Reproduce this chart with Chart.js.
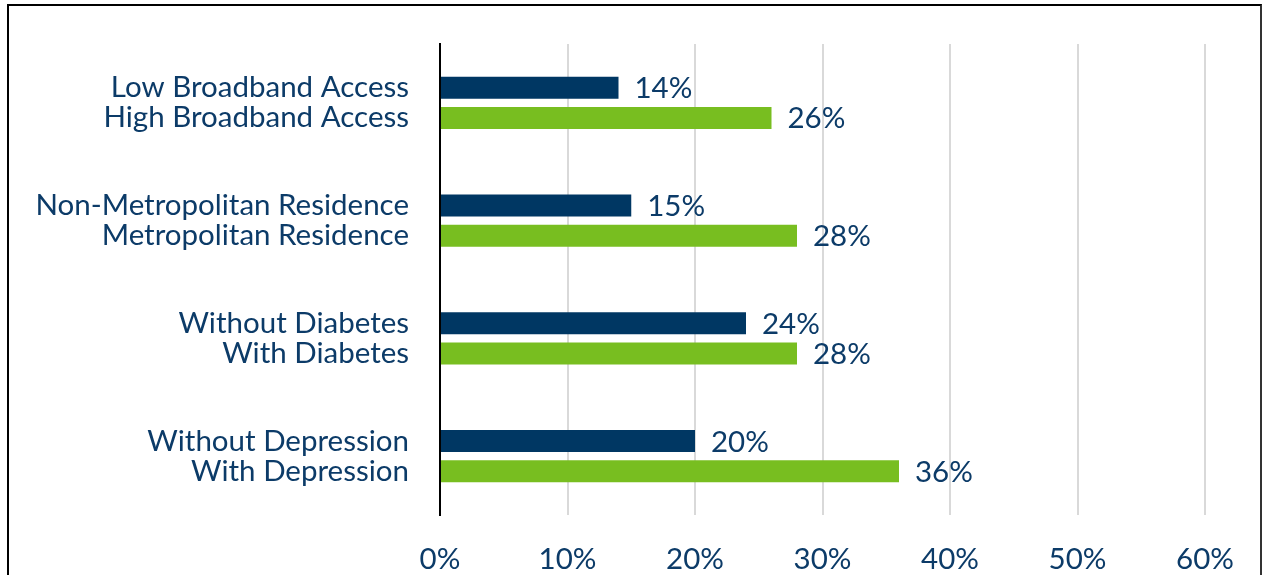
<!DOCTYPE html>
<html>
<head>
<meta charset="utf-8">
<script src="https://cdn.jsdelivr.net/npm/chart.js@4.4.0/dist/chart.umd.min.js"></script>
<style>
  html, body { margin: 0; padding: 0; background: #fff; overflow: hidden; }
  #frame {
    position: absolute;
    left: 7px;
    top: 4px;
    width: 1251px;
    height: 620px;
    border-top: 2px solid #000;
    border-left: 2px solid #000;
    border-right: 2px solid #333;
  }
  canvas { display: block; }
</style>
</head>
<body>
<div id="frame">
  <canvas id="grafico" width="1251" height="569"></canvas>
</div>
<script>
// each group shows two bars: the lower-uptake group first, then the higher one
const groupLabels = [
    ['Low Broadband Access', 'High Broadband Access'],
    ['Non-Metropolitan Residence', 'Metropolitan Residence'],
    ['Without Diabetes', 'With Diabetes'],
    ['Without Depression', 'With Depression']
];
const valoresBaixos = [14, 15, 24, 20];
const valoresAltos = [26, 28, 28, 36];
const xTicks = [0, 10, 20, 30, 40, 50, 60];

const corTexto = '#0c3b68';
const fonte = 'Lato, "Open Sans", sans-serif';
const tamanho = 29.5;

// writes the value beside the end of each bar
const rotulosValor = {
    id: 'rotulosValor',
    afterDatasetsDraw(chart) {
        const ctx = chart.ctx;
        ctx.save();
        ctx.font = tamanho + 'px ' + fonte;
        ctx.fillStyle = corTexto;
        ctx.textAlign = 'left';
        ctx.textBaseline = 'middle';
        chart.data.datasets.forEach((ds, i) => {
            chart.getDatasetMeta(i).data.forEach((bar, j) => {
                ctx.fillText(ds.data[j] + '%', bar.x + 16, bar.y + 1);
            });
        });
        ctx.restore();
    }
};

const ctx = document.getElementById('grafico').getContext('2d');
window.myChart = new Chart(ctx, {
    type: 'bar',
    data: {
        labels: groupLabels,
        datasets: [{
            label: 'Lower',
            data: valoresBaixos,
            backgroundColor: '#003763',
            categoryPercentage: 0.51,
            barPercentage: 0.733
        }, {
            label: 'Higher',
            data: valoresAltos,
            backgroundColor: '#78be20',
            categoryPercentage: 0.51,
            barPercentage: 0.733
        }]
    },
    options: {
        indexAxis: 'y',
        responsive: false,
        animation: false,
        layout: { padding: { top: 38, right: 55, left: 0, bottom: 0 } },
        plugins: {
            legend: { display: false },
            tooltip: { enabled: false }
        },
        scales: {
            x: {
                min: 0,
                max: 60,
                afterBuildTicks(scale) {
                    scale.ticks = xTicks.map(v => ({ value: v }));
                },
                afterFit(scale) {
                    scale.height = 60;
                    scale.paddingLeft = 0;
                    scale.paddingRight = 0;
                },
                grid: { color: '#d9d9d9', lineWidth: 2, drawTicks: false },
                border: { display: false },
                ticks: {
                    padding: 30,
                    color: corTexto,
                    font: { family: fonte, size: tamanho, lineHeight: 1.0 },
                    callback: v => v + '%'
                }
            },
            y: {
                afterFit(scale) {
                    scale.width = 431;
                    scale.paddingTop = 0;
                    scale.paddingBottom = 0;
                },
                grid: { display: false, drawTicks: false },
                border: { color: '#000', width: 2 },
                ticks: {
                    padding: 31,
                    color: corTexto,
                    font: { family: fonte, size: tamanho, lineHeight: '30px' }
                }
            }
        }
    },
    plugins: [rotulosValor]
});
</script>
</body>
</html>
